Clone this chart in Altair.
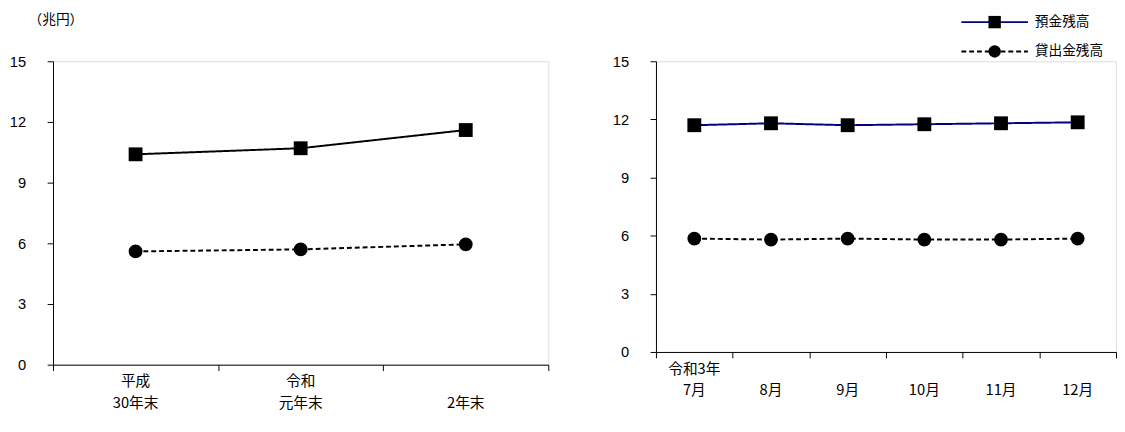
import altair as alt
import pandas as pd

series = ["預金残高", "貸出金残高"]

left_labels = ["平成|30年末", "令和|元年末", "|2年末"]
left_deposit = [10.4, 10.7, 11.6]
left_loan = [5.6, 5.7, 5.95]

right_labels = ["令和3年|7月", "|8月", "|9月", "|10月", "|11月", "|12月"]
right_deposit = [11.7, 11.8, 11.7, 11.75, 11.8, 11.85]
right_loan = [5.85, 5.8, 5.85, 5.8, 5.8, 5.85]

FONT = "Noto Sans CJK JP"
NUMFONT = "Liberation Sans"
DASHES = [[1, 0], [5, 3]]
SHAPES = ["square", "circle"]


def make_df(labels, deposit, loan):
    rows = []
    for i, lab in enumerate(labels):
        rows.append({"pos": i + 0.5, "label": lab, "series": series[0], "value": deposit[i]})
        rows.append({"pos": i + 0.5, "label": lab, "series": series[1], "value": loan[i]})
    return pd.DataFrame(rows)


def panel(labels, deposit, loan, height, deposit_color):
    df = make_df(labels, deposit, loan)
    n = len(labels)
    x = alt.X("pos:Q", scale=alt.Scale(domain=[0, n], nice=False),
              axis=alt.Axis(values=list(range(n + 1)), labels=False, grid=False,
                            title=None, tickSize=6, domainColor="black", tickColor="black"))
    y = alt.Y("value:Q", scale=alt.Scale(domain=[0, 15], nice=False),
              axis=alt.Axis(values=[0, 3, 6, 9, 12, 15], grid=False, title=None,
                            tickSize=6, labelPadding=22, labelFontSize=15,
                            labelFont=NUMFONT, domainColor="black",
                            tickColor="black", labelColor="black"))
    color = alt.Color("series:N", scale=alt.Scale(domain=series, range=[deposit_color, "black"]),
                      legend=None)
    dash = alt.StrokeDash("series:N", scale=alt.Scale(domain=series, range=DASHES), legend=None)
    shape = alt.Shape("series:N", scale=alt.Scale(domain=series, range=SHAPES), legend=None)
    base = alt.Chart(df)
    line = base.mark_line(strokeWidth=2).encode(x=x, y=y, color=color, strokeDash=dash)
    pts = base.mark_point(filled=True, size=200, opacity=1, color="black").encode(
        x=x, y=y, shape=shape)
    lab = base.transform_filter(alt.datum.series == series[0]).transform_calculate(
        lab="split(datum.label, '|')")
    txt = lab.mark_text(font=FONT, fontSize=15, baseline="top", lineHeight=22,
                        color="black").encode(
        x="pos:Q", y=alt.value(height + 10), text=alt.Text("lab:N"))
    return [line, pts, txt]


lp = panel(left_labels, left_deposit, left_loan, 310, "black")
unit = alt.Chart(pd.DataFrame({"t": ["（兆円）"]})).mark_text(
    font=FONT, fontSize=14, color="black", align="left").encode(
    x=alt.value(-25), y=alt.value(-42), text="t:N")
left = alt.layer(*lp, unit).properties(width=506, height=310)

rp = panel(right_labels, right_deposit, right_loan, 297, "#000080")

leg_df = pd.DataFrame({"series": series})
leg_layers = []
for name, ypix, col, dash, shp in zip(series, [-40, -10], ["#000080", "black"], DASHES, SHAPES):
    b = alt.Chart(leg_df).transform_filter(alt.datum.series == name)
    leg_layers.append(b.mark_rule(strokeWidth=2, color=col, strokeDash=dash).encode(
        x=alt.value(312), x2=alt.value(380), y=alt.value(ypix)))
    leg_layers.append(b.mark_point(filled=True, size=160, opacity=1, color="black", shape=shp).encode(
        x=alt.value(346), y=alt.value(ypix)))
    leg_layers.append(b.mark_text(font=FONT, fontSize=14, align="left", color="black").encode(
        x=alt.value(387), y=alt.value(ypix), text="series:N"))

right = alt.layer(*rp, *leg_layers).properties(width=470, height=297)

chart = alt.hconcat(left, right, spacing=63).resolve_scale(
    color="independent", strokeDash="independent", shape="independent"
).configure_view(stroke=None).configure(padding=0)

chart.save("out.html", embed_options={"renderer": "svg", "actions": False})
